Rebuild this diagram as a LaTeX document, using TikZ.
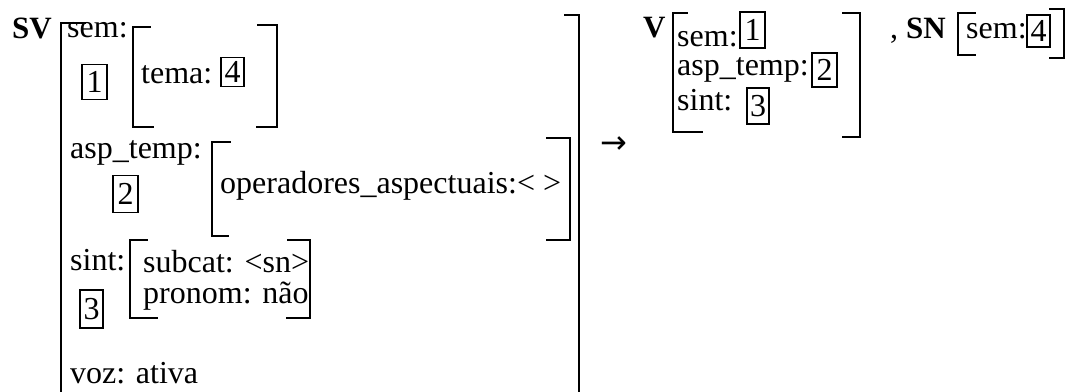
\documentclass[tikz,border=0pt]{standalone}
\usepackage{fontspec}
\setmainfont{Liberation Serif}
\newfontfamily\arrowfont{DejaVu Sans}
\begin{document}
\begin{tikzpicture}[x=1pt,y=-1pt,
  font=\fontsize{32}{32}\selectfont,
  txt/.style={anchor=base west, inner sep=0pt},
  hd/.style={anchor=base west, inner sep=0pt, font=\fontsize{31}{31}\selectfont\bfseries},
  nbox/.style={draw, line width=1.4pt, inner sep=0pt, minimum width=24pt, minimum height=28pt},
  brk/.style={line width=2pt, line cap=rect},
  ibrk/.style={line width=1.8pt, line cap=rect}]
\useasboundingbox (0,0) rectangle (1071,391);

% ---- SV ----
\node[hd] (sv) at (12,38) {SV};
\draw[brk] (85,23) -- (61,23) -- (61,391);
\draw[brk] (565,15) -- (579,15) -- (579,391);

\node[txt] (sem) at (67,37) {sem:};
\node[nbox, minimum width=25pt, minimum height=35pt] (b1) at (94.5,82) {1};
\draw[ibrk] (150,27) -- (133,27) -- (133,127) -- (153,127);
\draw[ibrk] (258,25) -- (277,25) -- (277,127) -- (257,127);
\node[txt] (tema) at (141,83) {tema:};
\node[nbox, minimum width=23pt, minimum height=29pt] (b4) at (232.5,72) {4};

\node[txt] (asp) at (70,158) {asp\_temp:};
\node[nbox, minimum width=25pt, minimum height=37pt] (b2) at (125.5,194) {2};
\draw[ibrk] (230,142) -- (212,142) -- (212,236) -- (228,236);
\draw[ibrk] (547,138) -- (570,138) -- (570,240) -- (547,240);
\node[txt] (ops) at (220,193) {operadores\_aspectuais:< >};

\node[txt] (sint) at (70,270) {sint:};
\node[nbox, minimum width=23pt, minimum height=38pt] (b3) at (91.5,309) {3};
\draw[ibrk] (147,240) -- (130,240) -- (130,318) -- (157,318);
\draw[ibrk] (288,240) -- (310,240) -- (310,318) -- (287,318);
\node[txt] (subcat) at (143,272) {subcat: <sn>};
\node[txt] (pronom) at (143,303) {pronom: não};

\node[txt] (voz) at (70,383) {voz: ativa};

% ---- arrow ----
\node[inner sep=0pt, font=\fontsize{32}{32}\arrowfont\selectfont] (arr) at (614,145) {→};

% ---- V ----
\node[hd] (v) at (643,37) {V};
\draw[brk] (687,13) -- (673,13) -- (673,132) -- (702,132);
\draw[brk] (843,13) -- (860,13) -- (860,137) -- (843,137);
\node[txt] (vsem) at (677,46) {sem:};
\node[nbox, minimum width=25pt, minimum height=36pt] (v1) at (752.5,30) {1};
\node[txt] (vasp) at (677,75) {asp\_temp:};
\node[nbox, minimum width=25pt, minimum height=34pt] (v2) at (824.5,70) {2};
\node[txt] (vsint) at (677,110) {sint:};
\node[nbox, minimum width=22pt, minimum height=36pt] (v3) at (758,106) {3};

% ---- SN ----
\node[txt] (comma) at (890,38) {,};
\node[hd] (sn) at (906,38) {SN};
\draw[brk] (975,13) -- (958,13) -- (958,55) -- (975,55);
\draw[brk] (1050,9) -- (1064,9) -- (1064,58) -- (1050,58);
\node[txt] (snsem) at (966,38) {sem:};
\node[nbox, minimum width=23pt, minimum height=32pt] (s4) at (1038.5,31) {4};
\end{tikzpicture}
\end{document}
